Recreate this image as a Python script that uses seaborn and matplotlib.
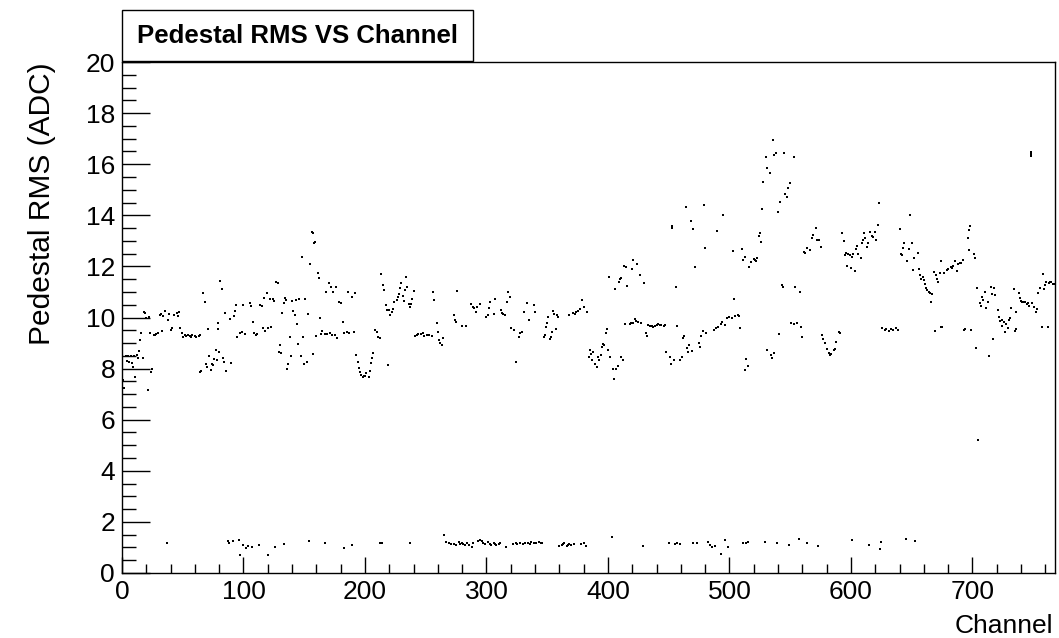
import matplotlib
matplotlib.use("Agg")
import matplotlib.pyplot as plt
import seaborn as sns
import pandas as pd
from matplotlib.ticker import MultipleLocator
from matplotlib.patches import Rectangle

# ---------------- data ----------------
upper_channel = [
    1, 2, 3, 5, 7, 10, 12, 4, 6, 8, 9, 11, 13, 14, 17, 15, 16, 18, 19, 20, 22, 21, 24, 25, 23,
    26, 27, 28, 30, 31, 32, 35, 38, 39, 34, 33, 40, 41, 43, 45, 46, 47, 48, 49, 50, 52, 53, 54,
    56, 57, 58, 60, 61, 63, 64, 64, 65, 67, 68, 69, 70, 71, 73, 74, 75, 72, 76, 77, 80, 78, 79,
    79, 81, 82, 83, 84, 85, 86, 89, 90, 92, 93, 94, 95, 97, 99,
    101, 100, 105, 106, 108, 109, 110, 111, 114, 115, 116, 118, 120, 123, 117, 119, 122, 124,
    125, 127, 128, 130, 129, 131, 132, 133, 134, 135, 136, 137, 138, 139, 140, 141, 142, 143,
    144, 146, 145, 147, 149, 148, 150, 151, 152, 153, 155, 156, 157, 159, 158, 157, 160, 161,
    162, 163, 164, 165, 167, 169, 171, 173, 175, 177, 168, 170, 172, 174, 176, 179, 180, 182,
    183, 185, 187, 191, 186, 189, 192, 193, 194, 195, 196, 197, 198, 199,
    200, 201, 203, 204, 205, 206, 207, 208, 210, 211, 212, 213, 215, 216, 217, 218, 219, 220,
    221, 222, 223, 224, 226, 227, 228, 229, 230, 231, 232, 233, 234, 235, 236, 237, 238, 239,
    240, 241, 243, 244, 246, 248, 249, 251, 253, 255, 256, 257, 259, 260, 261, 262, 263, 264,
    273, 274, 275, 276, 280, 283, 287, 289, 290, 291, 292, 295,
    300, 301, 302, 303, 306, 307, 312, 313, 314, 315, 317, 318, 319, 320, 323, 324, 327, 328,
    329, 331, 333, 335, 339, 340, 347, 348, 349, 350, 351, 352, 353, 354, 355, 356, 357, 358,
    359, 368, 371, 373, 374, 375, 377, 379, 380, 383, 385, 386, 384, 387, 388, 389, 391, 392,
    393, 394, 395, 397,
    396, 398, 399, 400, 402, 401, 404, 405, 407, 408, 406, 409, 410, 411, 411, 412, 413, 415,
    416, 420, 421, 424, 426, 430, 414, 418, 419, 421, 422, 423, 425, 427, 431, 432, 433, 435,
    436, 437, 439, 440, 441, 443, 444, 446, 447, 448, 451, 452, 454, 453, 453, 456, 457, 459,
    461, 462, 463, 464, 465, 466, 467, 469, 468, 470, 472, 475, 476, 477, 478, 481, 479, 480,
    487, 489, 490, 491, 493, 494, 496, 495,
    498, 500, 502, 505, 507, 508, 509, 503, 504, 510, 511, 513, 516, 518, 520, 521, 522, 523,
    524, 525, 526, 527, 528, 530, 531, 533, 536, 538, 537, 540, 542, 545, 546, 547, 548, 550,
    553, 514, 513, 515, 531, 534, 535, 537, 541, 543, 544, 551, 553, 556, 559, 554, 558, 560,
    561, 562, 564, 566, 568, 569, 571, 572, 574, 575, 576, 577, 579, 580, 582, 583, 584, 586,
    587, 588, 590, 591, 593, 594, 595,
    596, 598, 599, 601, 602, 597, 600, 603, 604, 605, 606, 608, 609, 610, 611, 612, 613, 614,
    616, 617, 618, 620, 621, 622, 623, 626, 628, 629, 631, 633, 635, 637, 639, 640, 641, 642,
    643, 644, 646, 648, 649, 650, 651, 652, 655, 656, 657, 658, 659, 660, 661, 662, 663, 664,
    665, 667, 666, 668, 670, 671, 672, 673, 669, 674, 675, 674, 677, 679, 680, 682, 683, 684,
    686, 687, 688, 690, 691, 692, 693,
    694, 699, 696, 697, 698, 697, 701, 702, 703, 704, 705, 706, 707, 708, 709, 710, 711, 713,
    714, 715, 716, 717, 718, 719, 721, 722, 723, 724, 724, 726, 727, 728, 729, 730, 731, 732,
    734, 735, 736, 736, 738, 739, 740, 741, 742, 743, 745, 746, 747, 748, 748, 748, 749, 751,
    752, 753, 754, 756, 757, 758, 759, 760, 761, 762, 763, 764, 765, 766, 767,
]
upper_rms = [
    7.55, 7.23, 8.50, 8.50, 8.50, 8.50, 8.53, 8.30, 8.24, 8.20, 8.07, 7.68, 8.40, 8.70, 8.40,
    9.12, 9.40, 10.23, 10.16, 9.97, 10.03, 7.16, 7.88, 8.00, 9.40, 9.30, 9.30, 9.35, 9.38,
    10.10, 10.14, 10.25, 9.90, 10.15, 10.06, 9.48, 9.50, 9.58, 10.10, 10.16, 10.06, 10.20,
    9.60, 9.40, 9.25, 9.30, 9.28, 9.33, 9.29, 9.25, 9.31, 9.26, 9.22, 9.27, 9.30, 7.88, 7.92,
    10.95, 10.62, 8.18, 8.07, 9.54, 7.94, 8.18, 8.14, 8.49, 8.36, 8.73, 8.66, 8.34, 9.54,
    9.80, 11.42, 11.10, 8.40, 8.27, 10.19, 7.92, 9.93, 8.20, 10.06, 10.25, 10.49, 9.25, 9.38,
    9.45,
    9.35, 10.49, 10.55, 10.45, 9.81, 9.38, 9.30, 9.35, 10.49, 10.45, 9.58, 9.48, 9.58, 9.61,
    10.75, 10.95, 10.71, 10.71, 10.66, 11.40, 11.34, 8.92, 8.66, 8.62, 10.16, 10.55, 10.75,
    10.70, 7.97, 8.18, 9.22, 8.49, 10.66, 10.27, 10.10, 10.69, 9.75, 10.71, 8.96, 8.49, 9.22,
    12.35, 8.18, 10.71, 8.24, 10.12, 12.08, 13.36, 13.32, 12.97, 12.90, 8.57, 9.28, 11.75,
    11.55, 10.00, 9.35, 9.47, 9.34, 9.35, 9.38, 9.33, 9.30, 9.20, 11.01, 11.34, 11.18, 11.00,
    11.20, 10.62, 10.55, 9.84, 9.38, 9.45, 9.40, 9.45, 10.99, 10.82, 10.95, 8.53, 8.27, 8.01,
    7.88, 7.75, 7.68, 7.70,
    7.71, 7.84, 7.68, 7.92, 8.20, 8.40, 8.62, 9.51, 9.45, 9.25, 9.18, 11.70, 11.27, 11.08,
    10.49, 10.29, 8.14, 10.29, 10.10, 10.23, 10.32, 10.62, 10.69, 10.79, 10.92, 11.14, 11.34,
    10.84, 10.66, 11.08, 11.60, 11.21, 10.53, 10.42, 10.53, 10.71, 11.05, 9.29, 9.32, 9.35,
    9.34, 9.38, 9.29, 9.31, 9.31, 9.29, 11.01, 10.69, 9.80, 9.45, 9.12, 9.01, 8.92, 9.18,
    10.10, 9.90, 9.82, 11.05, 9.68, 9.68, 10.53, 10.40, 10.36, 10.23, 10.42, 10.53,
    10.03, 10.10, 10.36, 10.59, 10.12, 10.72, 10.29, 10.16, 10.12, 10.10, 10.62, 11.00, 10.79,
    9.60, 9.51, 8.27, 9.25, 9.38, 9.45, 10.23, 10.58, 9.90, 10.49, 10.20, 9.22, 9.30, 9.64,
    9.77, 10.03, 9.15, 9.22, 9.45, 10.25, 10.12, 9.54, 10.10, 10.03, 10.10, 10.19, 10.15,
    10.23, 10.27, 10.32, 10.69, 10.42, 10.20, 8.73, 8.57, 8.47, 8.34, 8.66, 8.17, 8.05, 8.47,
    8.34, 8.53, 8.86, 8.92,
    8.96, 9.41, 9.54, 8.73, 8.47, 11.57, 7.97, 7.58, 7.97, 8.10, 11.10, 11.40, 11.49, 11.53,
    8.47, 8.34, 12.02, 11.99, 11.23, 11.89, 12.25, 12.09, 11.66, 11.36, 9.75, 9.75, 9.80,
    9.78, 9.93, 9.88, 9.81, 9.80, 9.41, 9.28, 9.71, 9.68, 9.67, 9.64, 9.66, 9.71, 9.75, 9.70,
    9.71, 9.67, 9.69, 8.66, 8.47, 8.18, 8.34, 13.49, 13.58, 11.21, 9.67, 8.34, 8.47, 9.18,
    9.28, 14.31, 8.79, 8.66, 8.91, 8.70, 13.79, 13.46, 11.99, 9.01, 8.86, 9.28, 9.47, 9.41,
    14.42, 12.71, 9.51, 9.58, 13.40, 9.64, 9.75, 9.84, 9.71, 14.01,
    9.97, 10.03, 10.00, 10.06, 10.10, 10.06, 9.57, 12.61, 10.71, 12.67, 12.25, 12.38, 11.96,
    12.18, 12.30, 12.25, 12.20, 12.32, 13.19, 13.29, 12.97, 14.23, 15.32, 16.29, 15.84, 15.67,
    16.95, 16.43, 16.36, 14.14, 14.53, 16.43, 14.83, 14.73, 15.06, 15.25, 16.29, 8.36, 7.95,
    8.10, 8.73, 8.53, 8.40, 8.62, 9.35, 11.27, 11.20, 9.77, 9.73, 9.77, 9.61, 11.18, 10.98,
    9.25, 12.58, 12.51, 12.71, 12.65, 13.10, 13.23, 13.52, 13.05, 13.03, 12.75, 9.31, 9.14,
    9.01, 8.75, 8.60, 8.53, 8.57, 8.73, 8.75, 9.05, 9.44, 9.40, 13.29, 13.01, 12.45,
    12.54, 12.50, 12.44, 12.35, 12.48, 12.01, 11.95, 11.83, 12.70, 12.80, 12.48, 12.31, 12.93,
    13.03, 13.32, 13.10, 12.77, 12.90, 13.33, 13.20, 13.16, 13.36, 13.03, 13.62, 14.47, 9.57,
    9.51, 9.54, 9.49, 9.56, 9.51, 9.60, 9.51, 13.46, 12.48, 12.44, 12.73, 12.93, 12.21, 12.70,
    14.01, 12.93, 11.86, 12.34, 12.54, 11.88, 11.66, 11.49, 11.60, 11.47, 11.31, 11.14, 11.07,
    11.01, 10.97, 10.92, 10.62, 11.79, 11.66, 11.49, 11.40, 11.73, 9.48, 9.61, 9.63, 12.21,
    11.75, 11.86, 11.88, 11.99, 11.95, 12.00, 12.22, 11.83, 12.09, 12.14, 12.13, 12.25, 9.51,
    9.54, 9.51, 13.10, 13.43, 13.58, 12.64, 12.49, 12.32, 8.79, 11.14, 5.20, 10.55, 10.45,
    10.82, 10.68, 11.01, 10.36, 10.62, 8.49, 11.18, 10.91, 9.14, 11.14, 10.88, 10.29, 10.03,
    9.88, 9.90, 9.67, 9.84, 9.45, 9.75, 9.58, 9.90, 9.97, 10.36, 11.10, 9.48, 9.54, 10.23,
    10.95, 10.75, 10.66, 10.62, 10.60, 10.62, 10.53, 10.55, 10.45, 16.49, 16.40, 16.32, 10.55,
    10.42, 10.23, 10.35, 10.95, 11.14, 9.61, 11.70, 11.10, 11.27, 11.37, 9.61, 11.35, 11.38,
    11.40, 11.32, 11.30,
]

lower_channel = [
    37, 87, 88, 91, 96, 97, 100, 102, 104, 107, 113, 120, 126, 133, 154, 167, 183, 189, 212,
    214, 237, 265, 267, 269, 271, 273, 275, 277, 278, 280, 281, 282, 284, 286, 288, 289, 293,
    295, 296, 297, 299, 301, 303, 304, 306, 307, 308, 310, 311, 316, 322, 324, 325, 328, 330,
    332, 334, 336, 337, 339, 341, 343, 345, 346, 360, 362, 363, 364, 366, 367, 368, 370, 372,
    378, 380, 382, 403, 429, 450, 455, 457, 459, 470, 473, 482, 484, 486, 488, 493, 496, 499,
    511, 514, 515, 529, 539, 549, 557, 564, 573, 601, 615, 624, 625, 645, 653,
]
lower_rms = [
    1.16, 1.26, 1.19, 1.26, 1.29, 0.70, 1.09, 0.96, 1.06, 1.00, 1.09, 0.70, 1.00, 1.13, 1.26,
    1.19, 0.96, 1.09, 1.19, 1.16, 1.19, 1.50, 1.23, 1.16, 1.13, 1.15, 1.09, 1.23, 1.13, 1.19,
    1.13, 1.09, 1.16, 1.09, 1.00, 1.16, 1.26, 1.29, 1.26, 1.19, 1.13, 1.22, 1.13, 1.09, 1.16,
    1.13, 1.09, 1.13, 1.16, 1.03, 1.13, 1.16, 1.13, 1.16, 1.13, 1.19, 1.16, 1.13, 1.23, 1.16,
    1.19, 1.23, 1.16, 1.19, 1.06, 1.09, 1.13, 1.16, 1.06, 1.09, 1.13, 1.09, 1.13, 1.13, 1.19,
    1.06, 1.42, 1.06, 1.19, 1.13, 1.19, 1.13, 1.16, 1.19, 1.23, 1.09, 1.03, 1.06, 0.74, 1.29,
    1.03, 1.16, 1.19, 1.21, 1.21, 1.16, 1.11, 1.32, 1.19, 1.06, 1.29, 1.08, 0.95, 1.21, 1.32,
    1.24,
]

title_text = "Pedestal RMS VS Channel"
x_label = "Channel"
y_label = "Pedestal RMS (ADC)"

# ---------------- plotting ----------------
sns.set_theme(style="white")
plt.rcParams["font.family"] = ["Liberation Sans", "DejaVu Sans"]
plt.rcParams["text.color"] = "black"

df = pd.DataFrame({
    "channel": upper_channel + lower_channel,
    "rms": upper_rms + lower_rms,
})

W, H = 1059, 638
fig = plt.figure(figsize=(W / 100, H / 100), dpi=100)
ax = fig.add_axes([122 / W, (H - 573) / H, 933 / W, 511 / H])

sns.scatterplot(data=df, x="channel", y="rms", ax=ax, color="black",
                marker="s", s=3.5, linewidth=0, legend=False)

ax.set_xlim(0, 768)
ax.set_ylim(0, 20)
ax.xaxis.set_major_locator(MultipleLocator(100))
ax.xaxis.set_minor_locator(MultipleLocator(20))
ax.yaxis.set_major_locator(MultipleLocator(2))
ax.yaxis.set_minor_locator(MultipleLocator(0.5))

ax.tick_params(axis="both", which="both", direction="in", colors="black",
               labelcolor="black", bottom=True, left=True, top=False, right=False,
               width=1.0, labelsize=19)
ax.tick_params(axis="y", which="major", length=20, pad=5)
ax.tick_params(axis="y", which="minor", length=10)
ax.tick_params(axis="x", which="major", length=11.5, pad=5)
ax.tick_params(axis="x", which="minor", length=6.5)

for sp in ax.spines.values():
    sp.set_color("black")
    sp.set_linewidth(1.0)
    sp.set_visible(True)

ax.set_xlabel("")
ax.set_ylabel("")
fig.text(1053 / W, 1 - 633 / H, x_label, ha="right", va="baseline",
         fontsize=19, color="black")
fig.text(42 / W, 1 - 62 / H, y_label, ha="center", va="top", rotation=90,
         fontsize=21.5, color="black")

# title box (ROOT style)
fig.patches.append(Rectangle((122 / W, 1 - 61 / H), (473 - 122) / W, 51 / H,
                             transform=fig.transFigure, facecolor="white",
                             edgecolor="black", linewidth=1.0, zorder=5))
fig.text(297.5 / W, 1 - 36 / H, title_text, ha="center", va="center",
         fontsize=18.5, fontweight="bold", color="black", zorder=6)

fig.savefig("out.png", dpi=100, facecolor="white")
